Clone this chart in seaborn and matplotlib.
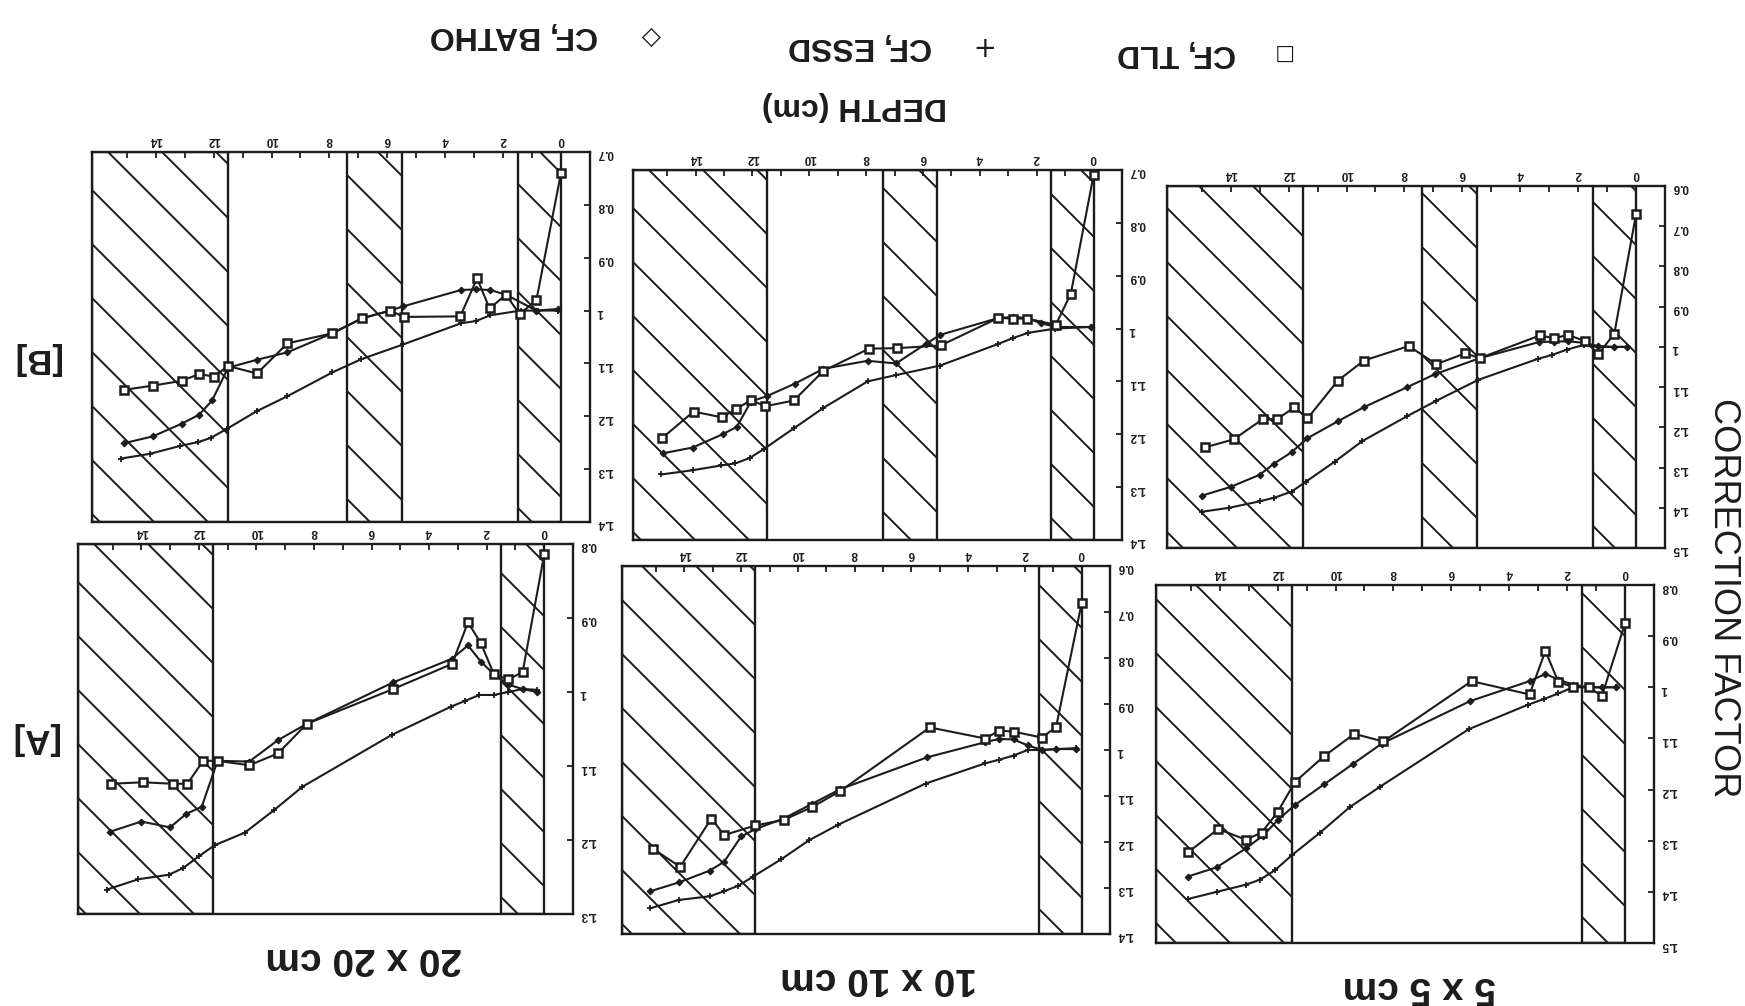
import numpy as np
import matplotlib
matplotlib.use("Agg")
import matplotlib.pyplot as plt
from matplotlib.patches import Rectangle
from matplotlib.lines import Line2D
from matplotlib.ticker import FuncFormatter
import seaborn as sns

sns.set_style("white")
plt.rcParams["font.family"] = ["Liberation Sans", "DejaVu Sans"]

INK = "#1c1c1c"

# ---------------- data: correction factor vs depth (cm) ----------------
# [A] phantom, 5 x 5 cm field
A5_tld_depth = [0.0, 0.8, 1.25, 1.8, 2.3, 2.75, 3.3, 5.3, 8.35, 9.35, 10.4, 11.4, 12.0, 12.55, 13.1, 14.05, 15.1]
A5_tld_cf = [0.875, 1.017, 1.0, 0.999, 0.99, 0.929, 1.014, 0.988, 1.106, 1.091, 1.135, 1.185, 1.244, 1.284, 1.298, 1.277, 1.323]
A5_essd_depth = [0.3, 0.8, 1.25, 1.8, 2.3, 2.8, 3.35, 5.4, 8.45, 9.5, 10.55, 11.5, 12.1, 12.6, 13.1, 14.1, 15.1]
A5_essd_cf = [1.0, 1.0, 1.0, 1.0, 1.012, 1.023, 1.034, 1.082, 1.194, 1.234, 1.285, 1.328, 1.358, 1.376, 1.386, 1.40, 1.414]
A5_batho_depth = [0.3, 0.8, 1.25, 1.8, 2.3, 2.75, 3.3, 5.35, 8.4, 9.4, 10.4, 11.4, 12.0, 12.5, 13.1, 14.1, 15.1]
A5_batho_cf = [1.0, 1.0, 1.0, 0.995, 0.985, 0.974, 0.988, 1.027, 1.11, 1.15, 1.19, 1.23, 1.26, 1.29, 1.315, 1.352, 1.37]

# [A] phantom, 10 x 10 cm field
A10_tld_depth = [0.0, 0.9, 1.4, 2.4, 2.9, 3.4, 5.35, 8.5, 9.5, 10.5, 11.5, 12.6, 13.05, 14.15, 15.1]
A10_tld_cf = [0.681, 0.95, 0.973, 0.96, 0.958, 0.975, 0.951, 1.089, 1.124, 1.152, 1.164, 1.185, 1.149, 1.254, 1.215]
A10_essd_depth = [0.2, 0.9, 1.4, 1.9, 2.4, 2.9, 3.4, 5.5, 8.6, 9.6, 10.6, 11.6, 12.1, 12.6, 13.1, 14.2, 15.2]
A10_essd_cf = [0.996, 0.998, 1.0, 1.0, 1.012, 1.021, 1.029, 1.073, 1.163, 1.196, 1.238, 1.276, 1.295, 1.307, 1.318, 1.326, 1.344]
A10_batho_depth = [0.2, 0.9, 1.4, 1.9, 2.4, 2.9, 3.4, 5.45, 8.5, 9.5, 10.5, 11.5, 12.0, 12.6, 13.1, 14.2, 15.2]
A10_batho_cf = [0.998, 0.998, 1.0, 0.99, 0.977, 0.976, 0.983, 1.016, 1.085, 1.117, 1.149, 1.172, 1.188, 1.243, 1.262, 1.288, 1.307]

# [A] phantom, 20 x 20 cm field
A20_tld_depth = [0.0, 0.75, 1.25, 1.75, 2.2, 2.65, 3.2, 5.25, 8.25, 9.25, 10.25, 11.35, 11.85, 12.4, 12.9, 13.95, 15.05]
A20_tld_cf = [0.814, 0.973, 0.983, 0.976, 0.934, 0.906, 0.962, 0.996, 1.043, 1.083, 1.099, 1.093, 1.093, 1.124, 1.124, 1.122, 1.124]
A20_essd_depth = [0.25, 0.75, 1.25, 1.75, 2.25, 2.75, 3.25, 5.3, 8.4, 9.4, 10.4, 11.45, 12.0, 12.55, 13.05, 14.1, 15.2]
A20_essd_cf = [0.997, 0.996, 1.0, 1.004, 1.004, 1.012, 1.02, 1.058, 1.128, 1.16, 1.19, 1.207, 1.222, 1.238, 1.247, 1.253, 1.267]
A20_batho_depth = [0.25, 0.75, 1.25, 1.75, 2.2, 2.65, 3.2, 5.25, 8.25, 9.25, 10.25, 11.35, 11.9, 12.45, 13.0, 14.0, 15.1]
A20_batho_cf = [1.0, 0.996, 0.99, 0.976, 0.959, 0.937, 0.955, 0.987, 1.043, 1.065, 1.094, 1.093, 1.155, 1.165, 1.183, 1.175, 1.189]

# [B] phantom, 5 x 5 cm field
B5_tld_depth = [0.0, 0.75, 1.3, 1.75, 2.35, 2.85, 3.3, 5.4, 5.9, 6.9, 7.85, 9.4, 10.3, 11.35, 11.8, 12.4, 12.9, 13.9, 14.9]
B5_tld_cf = [0.67, 0.967, 1.018, 0.986, 0.97, 0.979, 0.971, 1.028, 1.016, 1.043, 0.998, 1.034, 1.084, 1.178, 1.15, 1.18, 1.18, 1.23, 1.25]
B5_essd_depth = [0.3, 0.75, 1.3, 1.8, 2.4, 2.9, 3.4, 5.45, 6.9, 7.9, 9.45, 10.4, 11.4, 11.9, 12.5, 13.0, 14.05, 15.0]
B5_essd_cf = [1.0, 1.0, 1.0, 0.995, 1.007, 1.02, 1.03, 1.082, 1.134, 1.172, 1.234, 1.285, 1.335, 1.36, 1.375, 1.384, 1.40, 1.41]
B5_batho_depth = [0.3, 0.75, 1.3, 1.8, 2.35, 2.85, 3.35, 5.4, 6.95, 7.9, 9.4, 10.3, 11.35, 11.9, 12.5, 13.0, 14.0, 15.0]
B5_batho_cf = [1.0, 1.0, 0.998, 0.99, 0.986, 0.987, 0.988, 1.028, 1.068, 1.10, 1.15, 1.185, 1.227, 1.262, 1.29, 1.318, 1.348, 1.37]

# [B] phantom, 10 x 10 cm field
B10_tld_depth = [0.0, 0.8, 1.33, 2.33, 2.84, 3.35, 5.38, 6.9, 7.9, 9.5, 10.54, 11.55, 12.05, 12.56, 13.07, 14.07, 15.17]
B10_tld_cf = [0.71, 0.934, 0.993, 0.981, 0.981, 0.98, 1.032, 1.037, 1.038, 1.08, 1.136, 1.147, 1.135, 1.152, 1.168, 1.157, 1.207]
B10_essd_depth = [0.1, 1.34, 2.3, 2.84, 3.35, 5.4, 6.95, 7.95, 9.5, 10.55, 11.6, 12.1, 12.6, 13.1, 14.1, 15.2]
B10_essd_cf = [0.997, 1.0, 1.008, 1.018, 1.029, 1.07, 1.088, 1.1, 1.15, 1.189, 1.228, 1.245, 1.255, 1.259, 1.268, 1.276]
B10_batho_depth = [0.1, 1.3, 1.85, 2.35, 2.85, 3.35, 5.4, 5.9, 6.95, 7.95, 9.5, 10.5, 11.5, 12.05, 12.55, 13.05, 14.1, 15.15]
B10_batho_cf = [0.997, 0.997, 0.99, 0.98, 0.978, 0.98, 1.012, 1.029, 1.066, 1.061, 1.076, 1.104, 1.128, 1.138, 1.186, 1.2, 1.225, 1.236]

# [B] phantom, 20 x 20 cm field
B20_tld_depth = [0.0, 0.85, 1.43, 1.9, 2.47, 2.9, 3.48, 5.43, 5.9, 6.88, 7.9, 9.45, 10.5, 11.5, 12.0, 12.5, 13.1, 14.1, 15.1]
B20_tld_cf = [0.739, 0.98, 1.007, 0.97, 0.996, 0.939, 1.011, 1.012, 1.0, 1.015, 1.043, 1.062, 1.119, 1.105, 1.125, 1.12, 1.133, 1.142, 1.15]
B20_essd_depth = [0.1, 0.8, 1.4, 2.45, 2.95, 3.45, 5.45, 6.9, 7.9, 9.45, 10.5, 11.55, 12.1, 12.55, 13.15, 14.2, 15.2]
B20_essd_cf = [1.0, 1.0, 1.0, 1.009, 1.02, 1.024, 1.064, 1.092, 1.117, 1.162, 1.19, 1.224, 1.241, 1.249, 1.256, 1.271, 1.28]
B20_batho_depth = [0.1, 0.85, 1.9, 2.45, 2.95, 3.45, 5.45, 5.9, 6.9, 7.9, 9.45, 10.5, 11.5, 12.05, 12.5, 13.1, 14.1, 15.1]
B20_batho_cf = [0.997, 1.0, 0.97, 0.961, 0.96, 0.961, 0.992, 1.0, 1.015, 1.043, 1.079, 1.093, 1.108, 1.17, 1.197, 1.214, 1.238, 1.251]

# inhomogeneity slabs (depth ranges, cm)
slabs_A = [(0.0, 1.5), (11.5, 16.2)]
slabs_B = [(0.0, 1.5), (5.5, 7.4), (11.5, 16.2)]

field_labels = ["20 x 20 cm", "10 x 10 cm", "5 x 5 cm"]
row_labels = ["[B]", "[A]"]
legend_labels = ["CF, TLD", "CF, ESSD", "CF, BATHO"]

# ---------------- figure ----------------
W_PX, H_PX = 1745, 1006
fig = plt.figure(figsize=(W_PX / 100, H_PX / 100), dpi=100)
fig.patch.set_facecolor("white")

XLIM = (16.2, -1.0)   # page is printed upside down: depth grows to the left


def frac_box(x0, x1, y0, y1):
    """pixel box (top-left origin) -> figure fraction rect"""
    return [x0 / W_PX, 1 - y1 / H_PX, (x1 - x0) / W_PX, (y1 - y0) / H_PX]


panels = [
    # (pixel box, ylim, slabs, tld, essd, batho)
    ((92, 590, 152, 522), (0.7, 1.4), slabs_B, (B20_tld_depth, B20_tld_cf), (B20_essd_depth, B20_essd_cf), (B20_batho_depth, B20_batho_cf)),
    ((633, 1122, 170, 540), (0.7, 1.4), slabs_B, (B10_tld_depth, B10_tld_cf), (B10_essd_depth, B10_essd_cf), (B10_batho_depth, B10_batho_cf)),
    ((1167, 1665, 186, 548), (0.6, 1.5), slabs_B, (B5_tld_depth, B5_tld_cf), (B5_essd_depth, B5_essd_cf), (B5_batho_depth, B5_batho_cf)),
    ((78, 573, 544, 914), (0.8, 1.3), slabs_A, (A20_tld_depth, A20_tld_cf), (A20_essd_depth, A20_essd_cf), (A20_batho_depth, A20_batho_cf)),
    ((622, 1110, 566, 934), (0.6, 1.4), slabs_A, (A10_tld_depth, A10_tld_cf), (A10_essd_depth, A10_essd_cf), (A10_batho_depth, A10_batho_cf)),
    ((1156, 1654, 585, 943), (0.8, 1.5), slabs_A, (A5_tld_depth, A5_tld_cf), (A5_essd_depth, A5_essd_cf), (A5_batho_depth, A5_batho_cf)),
]

HATCH_STEP = 54  # px between hatch lines


def add_slab(ax, d0, d1, ylim, w_px, h_px):
    rect = Rectangle((d0, ylim[0]), d1 - d0, ylim[1] - ylim[0], fill=False,
                     ec=INK, lw=1.7, zorder=2)
    ax.add_patch(rect)
    # diagonal "\" strokes laid out in pixel space, clipped to the slab
    for c in np.arange(-h_px, w_px + h_px, HATCH_STEP):
        ln = Line2D([c / w_px, (c - h_px) / w_px], [0, 1], transform=ax.transAxes,
                    color=INK, lw=1.4, zorder=1)
        ax.add_line(ln)
        ln.set_clip_path(rect)


for box, ylim, slabs, tld, essd, batho in panels:
    ax = fig.add_axes(frac_box(*box))
    w_px, h_px = box[1] - box[0], box[3] - box[2]

    ax.set_xlim(*XLIM)
    ax.set_ylim(ylim[1], ylim[0])
    for d0, d1 in slabs:
        add_slab(ax, d0, d1, ylim, w_px, h_px)

    sns.lineplot(x=tld[0], y=tld[1], ax=ax, color=INK, lw=1.5, marker="s", markersize=5.2,
                 markerfacecolor="white", markeredgecolor=INK, markeredgewidth=1.8,
                 sort=False, estimator=None, legend=False, zorder=4)
    sns.lineplot(x=batho[0], y=batho[1], ax=ax, color=INK, lw=1.5, marker="D", markersize=3.4,
                 markerfacecolor=INK, markeredgecolor=INK, markeredgewidth=0.8,
                 sort=False, estimator=None, legend=False, zorder=3)
    sns.lineplot(x=essd[0], y=essd[1], ax=ax, color=INK, lw=1.5, marker="+", markersize=5,
                 markeredgecolor=INK, markeredgewidth=1.3,
                 sort=False, estimator=None, legend=False, zorder=3)

    ax.set_xlim(*XLIM)
    ax.set_ylim(ylim[1], ylim[0])
    ax.set_xlabel("")
    ax.set_ylabel("")

    ax.set_xticks(np.arange(0, 15, 2))
    ax.set_xticks(np.arange(1, 16, 2), minor=True)
    ax.set_xticklabels([str(v) for v in range(0, 15, 2)])
    yt = np.round(np.arange(ylim[0], ylim[1] + 1e-6, 0.1), 1)
    ax.set_yticks(yt)
    ax.yaxis.set_major_formatter(FuncFormatter(lambda v, p: f"{v:g}"))

    ax.tick_params(axis="x", which="both", direction="in", length=4, width=1.3,
                   top=True, bottom=False, labeltop=True, labelbottom=False,
                   labelrotation=180, labelsize=8.5, pad=4, colors=INK)
    ax.tick_params(axis="y", which="both", direction="in", length=4, width=1.3,
                   right=True, left=False, labelright=True, labelleft=False,
                   labelrotation=180, labelsize=8.5, pad=5, colors=INK)
    for lab in ax.get_xticklabels() + ax.get_yticklabels():
        lab.set_fontweight("bold")
    for sp in ax.spines.values():
        sp.set_visible(True)
        sp.set_linewidth(1.7)
        sp.set_color(INK)
    ax.set_facecolor("white")


def ftext(x, y, s, **kw):
    fig.text(x / W_PX, 1 - y / H_PX, s, ha="center", va="center", color=INK, **kw)


# column (field size) labels
for (xc, yc), lab in zip([(364, 958), (879, 978), (1419, 987)], field_labels):
    ftext(xc, yc, lab, fontsize=28, fontweight="bold", rotation=180)

# row labels
for (xc, yc), lab in zip([(36, 358), (34, 738)], row_labels):
    ftext(xc, yc, lab, fontsize=25, fontweight="bold", rotation=180)

# axis titles
ftext(1724, 598, "CORRECTION FACTOR", fontsize=26, rotation=270)
ftext(854, 106, "DEPTH (cm)", fontsize=23, fontweight="bold", rotation=180)

# legend (drawn upside down with the page)
for (xt, yt_), (xm, ym), sym, size, lab in zip([(1177, 53), (860, 46), (514, 35)],
                                               [(1282, 53), (979, 45), (651, 36)],
                                               ["\u25a1", "+", "\u25c7"], [15, 20, 18],
                                               legend_labels):
    ftext(xt, yt_, lab, fontsize=23, fontweight="bold", rotation=180)
    ftext(xm, ym, sym, fontsize=size, rotation=180, family=["DejaVu Sans"])

fig.savefig("out.png", dpi=100, facecolor="white")
